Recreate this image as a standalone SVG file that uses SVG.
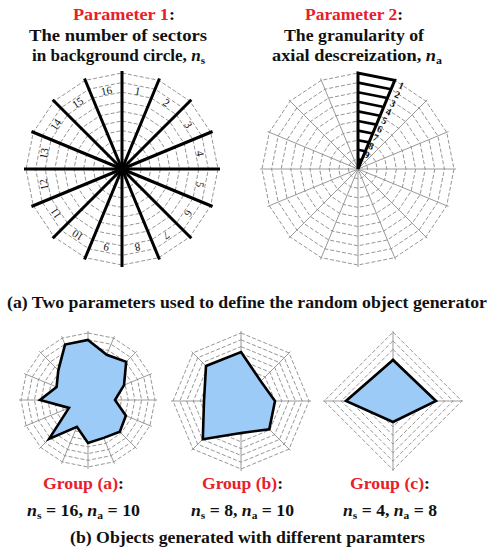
<svg xmlns="http://www.w3.org/2000/svg" width="489" height="550" viewBox="0 0 489 550">
<style>
.ring{fill:none;stroke:#8a8a8a;stroke-width:0.9;stroke-dasharray:4 2;vector-effect:non-scaling-stroke}
.spoke{stroke:#9a9a9a;stroke-width:1;fill:none}
.thick{stroke:#000;stroke-width:3;fill:none}
.bar{stroke:#000;stroke-width:2.6;fill:none}
.shape{fill:#9dcbf7;stroke:#000;stroke-width:2.6;stroke-linejoin:miter}
.t{font-family:"Liberation Serif","Times New Roman",serif;font-weight:bold;fill:#111}
.red{fill:#e8202a}
.num{font-family:"Liberation Serif","Times New Roman",serif;font-size:11px;fill:#111;text-anchor:middle;dominant-baseline:central}
.num2{font-family:"Liberation Serif","Times New Roman",serif;font-size:10px;font-weight:bold;fill:#111;text-anchor:middle;dominant-baseline:central}
</style>
<defs>
<polygon id="g16" class="ring" points="0,-1 0.3827,-0.9239 0.7071,-0.7071 0.9239,-0.3827 1,0 0.9239,0.3827 0.7071,0.7071 0.3827,0.9239 0,1 -0.3827,0.9239 -0.7071,0.7071 -0.9239,0.3827 -1,0 -0.9239,-0.3827 -0.7071,-0.7071 -0.3827,-0.9239"/>
<polygon id="g8" class="ring" points="0,-1 0.7071,-0.7071 1,0 0.7071,0.7071 0,1 -0.7071,0.7071 -1,0 -0.7071,-0.7071"/>
<polygon id="g4" class="ring" points="0,-1 1,0 0,1 -1,0"/>
</defs>

<!-- Parameter 1 -->
<g id="param1">
<text class="t" x="73" y="20" font-size="17" textLength="102" lengthAdjust="spacingAndGlyphs"><tspan class="red">Parameter 1</tspan>:</text>
<text class="t" x="29" y="41" font-size="17" textLength="178" lengthAdjust="spacingAndGlyphs">The number of sectors</text>
<text class="t" x="32" y="61" font-size="17" textLength="173" lengthAdjust="spacingAndGlyphs">in background circle, <tspan font-style="italic">n</tspan><tspan font-size="11" dy="3">s</tspan></text>
<g transform="translate(122,169)">
<use href="#g16" transform="scale(9.6)"/><use href="#g16" transform="scale(19.2)"/><use href="#g16" transform="scale(28.8)"/><use href="#g16" transform="scale(38.4)"/><use href="#g16" transform="scale(48)"/>
<use href="#g16" transform="scale(57.6)"/><use href="#g16" transform="scale(67.2)"/><use href="#g16" transform="scale(76.8)"/><use href="#g16" transform="scale(86.4)"/><use href="#g16" transform="scale(96)"/>
<line class="thick" x1="0" y1="-98" x2="0" y2="98"/>
<line class="thick" x1="37.5" y1="-90.54" x2="-37.5" y2="90.54"/>
<line class="thick" x1="69.3" y1="-69.3" x2="-69.3" y2="69.3"/>
<line class="thick" x1="90.54" y1="-37.5" x2="-90.54" y2="37.5"/>
<line class="thick" x1="98" y1="0" x2="-98" y2="0"/>
<line class="thick" x1="90.54" y1="37.5" x2="-90.54" y2="-37.5"/>
<line class="thick" x1="69.3" y1="69.3" x2="-69.3" y2="-69.3"/>
<line class="thick" x1="37.5" y1="90.54" x2="-37.5" y2="-90.54"/>
<circle r="3.5" fill="#000"/>
<text class="num" transform="rotate(11.25) translate(0,-80)">1</text>
<text class="num" transform="rotate(33.75) translate(0,-80)">2</text>
<text class="num" transform="rotate(56.25) translate(0,-80)">3</text>
<text class="num" transform="rotate(78.75) translate(0,-80)">4</text>
<text class="num" transform="rotate(101.25) translate(0,-80)">5</text>
<text class="num" transform="rotate(123.75) translate(0,-80)">6</text>
<text class="num" transform="rotate(146.25) translate(0,-80)">7</text>
<text class="num" transform="rotate(168.75) translate(0,-80)">8</text>
<text class="num" transform="rotate(191.25) translate(0,-80)">9</text>
<text class="num" transform="rotate(213.75) translate(0,-80)">10</text>
<text class="num" transform="rotate(236.25) translate(0,-80)">11</text>
<text class="num" transform="rotate(258.75) translate(0,-80)">12</text>
<text class="num" transform="rotate(281.25) translate(0,-80)">13</text>
<text class="num" transform="rotate(303.75) translate(0,-80)">14</text>
<text class="num" transform="rotate(326.25) translate(0,-80)">15</text>
<text class="num" transform="rotate(348.75) translate(0,-80)">16</text>
</g>
</g>

<!-- Parameter 2 -->
<g id="param2">
<text class="t" x="305" y="20" font-size="17" textLength="98" lengthAdjust="spacingAndGlyphs"><tspan class="red">Parameter 2</tspan>:</text>
<text class="t" x="284" y="41" font-size="17" textLength="140" lengthAdjust="spacingAndGlyphs">The granularity of</text>
<text class="t" x="272" y="61" font-size="17" textLength="170" lengthAdjust="spacingAndGlyphs">axial descreization, <tspan font-style="italic">n</tspan><tspan font-size="11" dy="3">a</tspan></text>
<g transform="translate(358,169)">
<line class="spoke" x1="0" y1="-98" x2="0" y2="98"/>
<line class="spoke" x1="37.5" y1="-90.54" x2="-37.5" y2="90.54"/>
<line class="spoke" x1="69.3" y1="-69.3" x2="-69.3" y2="69.3"/>
<line class="spoke" x1="90.54" y1="-37.5" x2="-90.54" y2="37.5"/>
<line class="spoke" x1="98" y1="0" x2="-98" y2="0"/>
<line class="spoke" x1="90.54" y1="37.5" x2="-90.54" y2="-37.5"/>
<line class="spoke" x1="69.3" y1="69.3" x2="-69.3" y2="-69.3"/>
<line class="spoke" x1="37.5" y1="90.54" x2="-37.5" y2="-90.54"/>
<use href="#g16" transform="scale(9.6)"/><use href="#g16" transform="scale(19.2)"/><use href="#g16" transform="scale(28.8)"/><use href="#g16" transform="scale(38.4)"/><use href="#g16" transform="scale(48)"/>
<use href="#g16" transform="scale(57.6)"/><use href="#g16" transform="scale(67.2)"/><use href="#g16" transform="scale(76.8)"/><use href="#g16" transform="scale(86.4)"/><use href="#g16" transform="scale(96)"/>
<polygon class="thick" points="0,0 0,-96 36.74,-88.69" stroke-linejoin="miter"/>
<line class="bar" x1="0" y1="-9.6" x2="3.67" y2="-8.87"/>
<line class="bar" x1="0" y1="-19.2" x2="7.35" y2="-17.74"/>
<line class="bar" x1="0" y1="-28.8" x2="11.02" y2="-26.61"/>
<line class="bar" x1="0" y1="-38.4" x2="14.7" y2="-35.48"/>
<line class="bar" x1="0" y1="-48" x2="18.37" y2="-44.35"/>
<line class="bar" x1="0" y1="-57.6" x2="22.04" y2="-53.22"/>
<line class="bar" x1="0" y1="-67.2" x2="25.72" y2="-62.08"/>
<line class="bar" x1="0" y1="-76.8" x2="29.39" y2="-70.95"/>
<line class="bar" x1="0" y1="-86.4" x2="33.07" y2="-79.82"/>
<text class="num2" transform="translate(43.5,-83.5) rotate(22.5)">1</text>
<text class="num2" transform="translate(39.3,-74.5) rotate(22.5)">2</text>
<text class="num2" transform="translate(35,-65.8) rotate(22.5)">3</text>
<text class="num2" transform="translate(30.6,-57.2) rotate(22.5)">4</text>
<text class="num2" transform="translate(26.3,-48.6) rotate(22.5)">5</text>
<text class="num2" transform="translate(21.9,-40.1) rotate(22.5)">6</text>
<text class="num2" transform="translate(17.6,-31.5) rotate(22.5)">7</text>
<text class="num2" transform="translate(13.2,-23) rotate(22.5)">8</text>
<text class="num2" transform="translate(8.9,-14.4) rotate(22.5)">9</text>
</g>
</g>

<text class="t" x="7" y="308" font-size="16" textLength="480" lengthAdjust="spacingAndGlyphs">(a) Two parameters used to define the random object generator</text>

<!-- Group (a) -->
<g id="group-a">
<g transform="translate(88,400)">
<line class="spoke" x1="0" y1="-69" x2="0" y2="69"/>
<line class="spoke" x1="26.4" y1="-63.75" x2="-26.4" y2="63.75"/>
<line class="spoke" x1="48.79" y1="-48.79" x2="-48.79" y2="48.79"/>
<line class="spoke" x1="63.75" y1="-26.4" x2="-63.75" y2="26.4"/>
<line class="spoke" x1="69" y1="0" x2="-69" y2="0"/>
<line class="spoke" x1="63.75" y1="26.4" x2="-63.75" y2="-26.4"/>
<line class="spoke" x1="48.79" y1="48.79" x2="-48.79" y2="-48.79"/>
<line class="spoke" x1="26.4" y1="63.75" x2="-26.4" y2="-63.75"/>
<use href="#g16" transform="scale(6.7)"/><use href="#g16" transform="scale(13.4)"/><use href="#g16" transform="scale(20.1)"/><use href="#g16" transform="scale(26.8)"/><use href="#g16" transform="scale(33.5)"/>
<use href="#g16" transform="scale(40.2)"/><use href="#g16" transform="scale(46.9)"/><use href="#g16" transform="scale(53.6)"/><use href="#g16" transform="scale(60.3)"/><use href="#g16" transform="scale(67)"/>
<polygon class="shape" points="0,-60 18.75,-45.27 38.18,-38.18 36.03,-14.92 27,0 37.88,15.69 31.82,31.82 15.69,37.88 0,43 -11.1,26.79 -38.89,38.89 -19.03,7.88 -48,0 -31.41,-13.01 -29.7,-29.7 -22.96,-55.43"/>
</g>
<text class="t" x="43" y="489" font-size="17" textLength="81" lengthAdjust="spacingAndGlyphs"><tspan class="red">Group (a)</tspan>:</text>
<text class="t" x="27" y="516" font-size="17" textLength="113" lengthAdjust="spacingAndGlyphs"><tspan font-style="italic">n</tspan><tspan font-size="11" dy="3">s</tspan><tspan dy="-3"> = 16, </tspan><tspan font-style="italic">n</tspan><tspan font-size="11" dy="3">a</tspan><tspan dy="-3"> = 10</tspan></text>
</g>

<!-- Group (b) -->
<g id="group-b">
<g transform="translate(241,401)">
<line class="spoke" x1="0" y1="-70" x2="0" y2="70"/>
<line class="spoke" x1="49.5" y1="-49.5" x2="-49.5" y2="49.5"/>
<line class="spoke" x1="70" y1="0" x2="-70" y2="0"/>
<line class="spoke" x1="49.5" y1="49.5" x2="-49.5" y2="-49.5"/>
<use href="#g8" transform="scale(6.8)"/><use href="#g8" transform="scale(13.6)"/><use href="#g8" transform="scale(20.4)"/><use href="#g8" transform="scale(27.2)"/><use href="#g8" transform="scale(34)"/>
<use href="#g8" transform="scale(40.8)"/><use href="#g8" transform="scale(47.6)"/><use href="#g8" transform="scale(54.4)"/><use href="#g8" transform="scale(61.2)"/><use href="#g8" transform="scale(68)"/>
<polygon class="shape" points="0,-49 19.8,-19.8 34,0 28.28,28.28 0,32 -38.18,38.18 -37,0 -35,-35"/>
</g>
<text class="t" x="202" y="489" font-size="17" textLength="81" lengthAdjust="spacingAndGlyphs"><tspan class="red">Group (b)</tspan>:</text>
<text class="t" x="191" y="516" font-size="17" textLength="103" lengthAdjust="spacingAndGlyphs"><tspan font-style="italic">n</tspan><tspan font-size="11" dy="3">s</tspan><tspan dy="-3"> = 8, </tspan><tspan font-style="italic">n</tspan><tspan font-size="11" dy="3">a</tspan><tspan dy="-3"> = 10</tspan></text>
</g>

<!-- Group (c) -->
<g id="group-c">
<g transform="translate(393,401)">
<line class="spoke" x1="0" y1="-70" x2="0" y2="70"/>
<line class="spoke" x1="70" y1="0" x2="-70" y2="0"/>
<use href="#g4" transform="scale(8.6)"/><use href="#g4" transform="scale(17.2)"/><use href="#g4" transform="scale(25.8)"/><use href="#g4" transform="scale(34.4)"/>
<use href="#g4" transform="scale(43)"/><use href="#g4" transform="scale(51.6)"/><use href="#g4" transform="scale(60.2)"/><use href="#g4" transform="scale(68.8)"/>
<polygon class="shape" points="0,-41 43,0 0,21 -47,0"/>
</g>
<text class="t" x="350" y="489" font-size="17" textLength="80" lengthAdjust="spacingAndGlyphs"><tspan class="red">Group (c)</tspan>:</text>
<text class="t" x="343" y="516" font-size="17" textLength="94" lengthAdjust="spacingAndGlyphs"><tspan font-style="italic">n</tspan><tspan font-size="11" dy="3">s</tspan><tspan dy="-3"> = 4, </tspan><tspan font-style="italic">n</tspan><tspan font-size="11" dy="3">a</tspan><tspan dy="-3"> = 8</tspan></text>
</g>

<text class="t" x="70" y="543" font-size="16" textLength="355" lengthAdjust="spacingAndGlyphs">(b) Objects generated with different paramters</text>
</svg>
